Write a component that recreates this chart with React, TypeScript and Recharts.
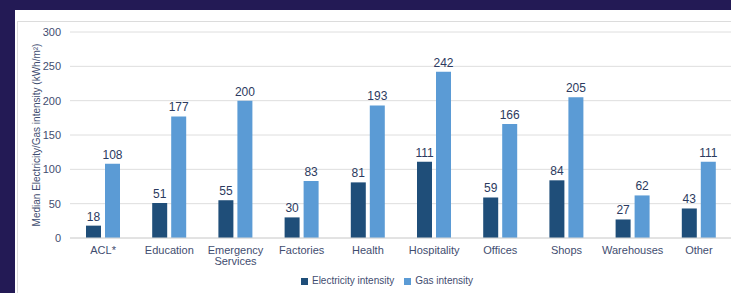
import { BarChart, Bar, XAxis, YAxis, CartesianGrid, Legend, LabelList } from "recharts";

const CATEGORIES = [
  "ACL*",
  "Education",
  "Emergency Services",
  "Factories",
  "Health",
  "Hospitality",
  "Offices",
  "Shops",
  "Warehouses",
  "Other",
];
const ELECTRICITY = [18, 51, 55, 30, 81, 111, 59, 84, 27, 43];
const GAS = [108, 177, 200, 83, 193, 242, 166, 205, 62, 111];
const Y_TICKS = [0, 50, 100, 150, 200, 250, 300];

const data = CATEGORIES.map((name, i) => ({
  name,
  elec: ELECTRICITY[i],
  gas: GAS[i],
}));

const FONT = "'Liberation Sans', Arial, sans-serif";
const TICK_COLOR = "#3f4d70";
const LABEL_COLOR = "#2c3a60";

function CategoryTick(props: any) {
  const { x, y, payload } = props;
  const lines: string[] = String(payload.value).split(" ");
  return (
    <text x={x} y={y} textAnchor="middle" fill={TICK_COLOR} fontSize={11} fontFamily={FONT}>
      {lines.map((l, i) => (
        <tspan key={i} x={x} dy={i === 0 ? "0.71em" : 11}>
          {l}
        </tspan>
      ))}
    </text>
  );
}

function YTitle(props: any) {
  const vb = props.viewBox || { x: 18, y: 32, height: 205 };
  const cx = vb.x + 18;
  const cy = vb.y + vb.height / 2;
  return (
    <text
      x={cx}
      y={cy}
      transform={`rotate(-90 ${cx} ${cy})`}
      textAnchor="middle"
      dominantBaseline="central"
      fill={TICK_COLOR}
      fontSize={10}
      fontFamily={FONT}
    >
      Median Electricity/Gas intensity (kWh/m²)
    </text>
  );
}

export default function App() {
  return (
    <div
      style={{
        position: "fixed",
        left: 0,
        top: 0,
        width: 731,
        height: 293,
        overflow: "hidden",
        background: "#231a55",
      }}
    >
      <div
        style={{
          position: "absolute",
          left: 15,
          top: 10,
          width: 716,
          height: 283,
          background: "#fff",
        }}
      />
      <div
        style={{
          position: "absolute",
          left: 17,
          top: 21,
          width: 730,
          height: 290,
          border: "1px solid #dcdcdc",
        }}
      />
      <div style={{ position: "absolute", left: 0, top: 0 }}>
        <BarChart
          width={734}
          height={293}
          data={data}
          margin={{ top: 32, right: 2, left: 18, bottom: 7 }}
          barSize={15}
          barGap={4}
        >
          <CartesianGrid vertical={false} stroke="#dedede" />
          <XAxis
            dataKey="name"
            tick={<CategoryTick />}
            tickLine={false}
            axisLine={{ stroke: "#d6d6d6" }}
            interval={0}
            height={37}
          />
          <YAxis
            domain={[0, 300]}
            ticks={Y_TICKS}
            width={52}
            axisLine={false}
            tickLine={false}
            tickMargin={3}
            tick={{ fill: TICK_COLOR, fontSize: 11, fontFamily: FONT }}
            label={<YTitle />}
          />
          <Legend
            verticalAlign="bottom"
            align="center"
            iconType="square"
            iconSize={7}
            wrapperStyle={{ fontFamily: FONT, fontSize: 10, paddingLeft: 17 }}
            formatter={(v: string) => <span style={{ color: TICK_COLOR }}>{v}</span>}
          />
          <Bar dataKey="elec" name="Electricity intensity" fill="#1f4e79" isAnimationActive={false}>
            <LabelList
              dataKey="elec"
              position="top"
              offset={5}
              fill={LABEL_COLOR}
              fontSize={12}
              fontFamily={FONT}
            />
          </Bar>
          <Bar dataKey="gas" name="Gas intensity" fill="#5b9bd5" isAnimationActive={false}>
            <LabelList
              dataKey="gas"
              position="top"
              offset={5}
              fill={LABEL_COLOR}
              fontSize={12}
              fontFamily={FONT}
            />
          </Bar>
        </BarChart>
      </div>
    </div>
  );
}
